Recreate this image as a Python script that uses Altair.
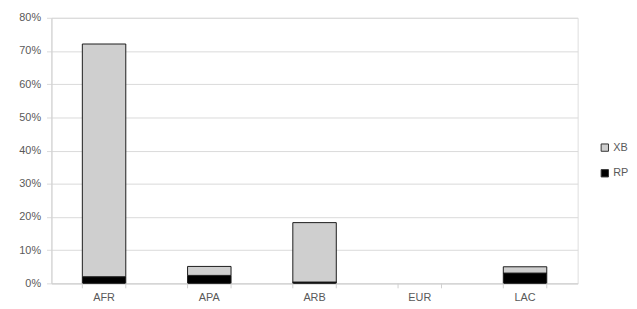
import altair as alt
import pandas as pd

categories = ["AFR", "APA", "ARB", "EUR", "LAC"]
rp_values = [0.02, 0.024, 0.004, 0.0, 0.031]
xb_values = [0.701, 0.027, 0.179, 0.0, 0.019]
series = ["XB", "RP"]

rows = []
for c, r, x in zip(categories, rp_values, xb_values):
    rows.append({"region": c, "series": "RP", "value": r, "ord": 0})
    rows.append({"region": c, "series": "XB", "value": x, "ord": 1})
df = pd.DataFrame(rows)

FONT = "Liberation Sans"
GRAY = "#595959"
LINE = "#d0d0d0"

xscale = alt.Scale(domain=categories, paddingInner=0.587, paddingOuter=0.2935)

bars = alt.Chart(df).transform_filter("datum.value > 0").mark_bar(
    stroke="#1a1a1a", strokeWidth=1
).encode(
    x=alt.X("region:N", scale=xscale, sort=categories,
            axis=alt.Axis(title=None, labelAngle=0, ticks=False, domain=True,
                          domainColor=LINE, labelColor=GRAY, labelFont=FONT,
                          labelFontSize=11, labelPadding=8, grid=False)),
    y=alt.Y("value:Q", stack="zero",
            scale=alt.Scale(domain=[0, 0.8], nice=False),
            axis=alt.Axis(title=None, format=".0%", values=[0, 0.1, 0.2, 0.3, 0.4, 0.5, 0.6, 0.7, 0.8],
                          grid=True, gridColor="#d9d9d9", domainColor=LINE,
                          tickColor="#d9d9d9", tickSize=5, labelColor=GRAY,
                          labelFont=FONT, labelFontSize=11, labelPadding=6)),
    color=alt.Color("series:N",
                    scale=alt.Scale(domain=series, range=["#cfcfcf", "#000000"]),
                    legend=alt.Legend(title=None, orient="none", legendX=555, legendY=126,
                                      symbolType="square", symbolSize=55,
                                      symbolStrokeColor="#333333", symbolStrokeWidth=1,
                                      labelFont=FONT, labelFontSize=11, labelColor=GRAY,
                                      rowPadding=13, labelOffset=3)),
    order=alt.Order("ord:Q"),
)

cat_df = pd.DataFrame({"region": categories})

tick_start = alt.Chart(cat_df).mark_rule(color=LINE, strokeWidth=1).encode(
    x=alt.X("region:N", scale=xscale, sort=categories, bandPosition=0),
    y=alt.value(269),
    y2=alt.value(274),
)
tick_end = alt.Chart(cat_df).mark_rule(color=LINE, strokeWidth=1).encode(
    x=alt.X("region:N", scale=xscale, sort=categories, bandPosition=1),
    y=alt.value(269),
    y2=alt.value(274),
)

chart = alt.layer(bars, tick_start, tick_end).properties(
    width=533, height=269,
    autosize=alt.AutoSizeParams(type="none"),
    padding={"left": 44, "top": 8, "right": 52, "bottom": 20},
).configure_view(stroke=None).configure(background="white")

chart.save("out.html", embed_options={"renderer": "svg", "actions": False})
